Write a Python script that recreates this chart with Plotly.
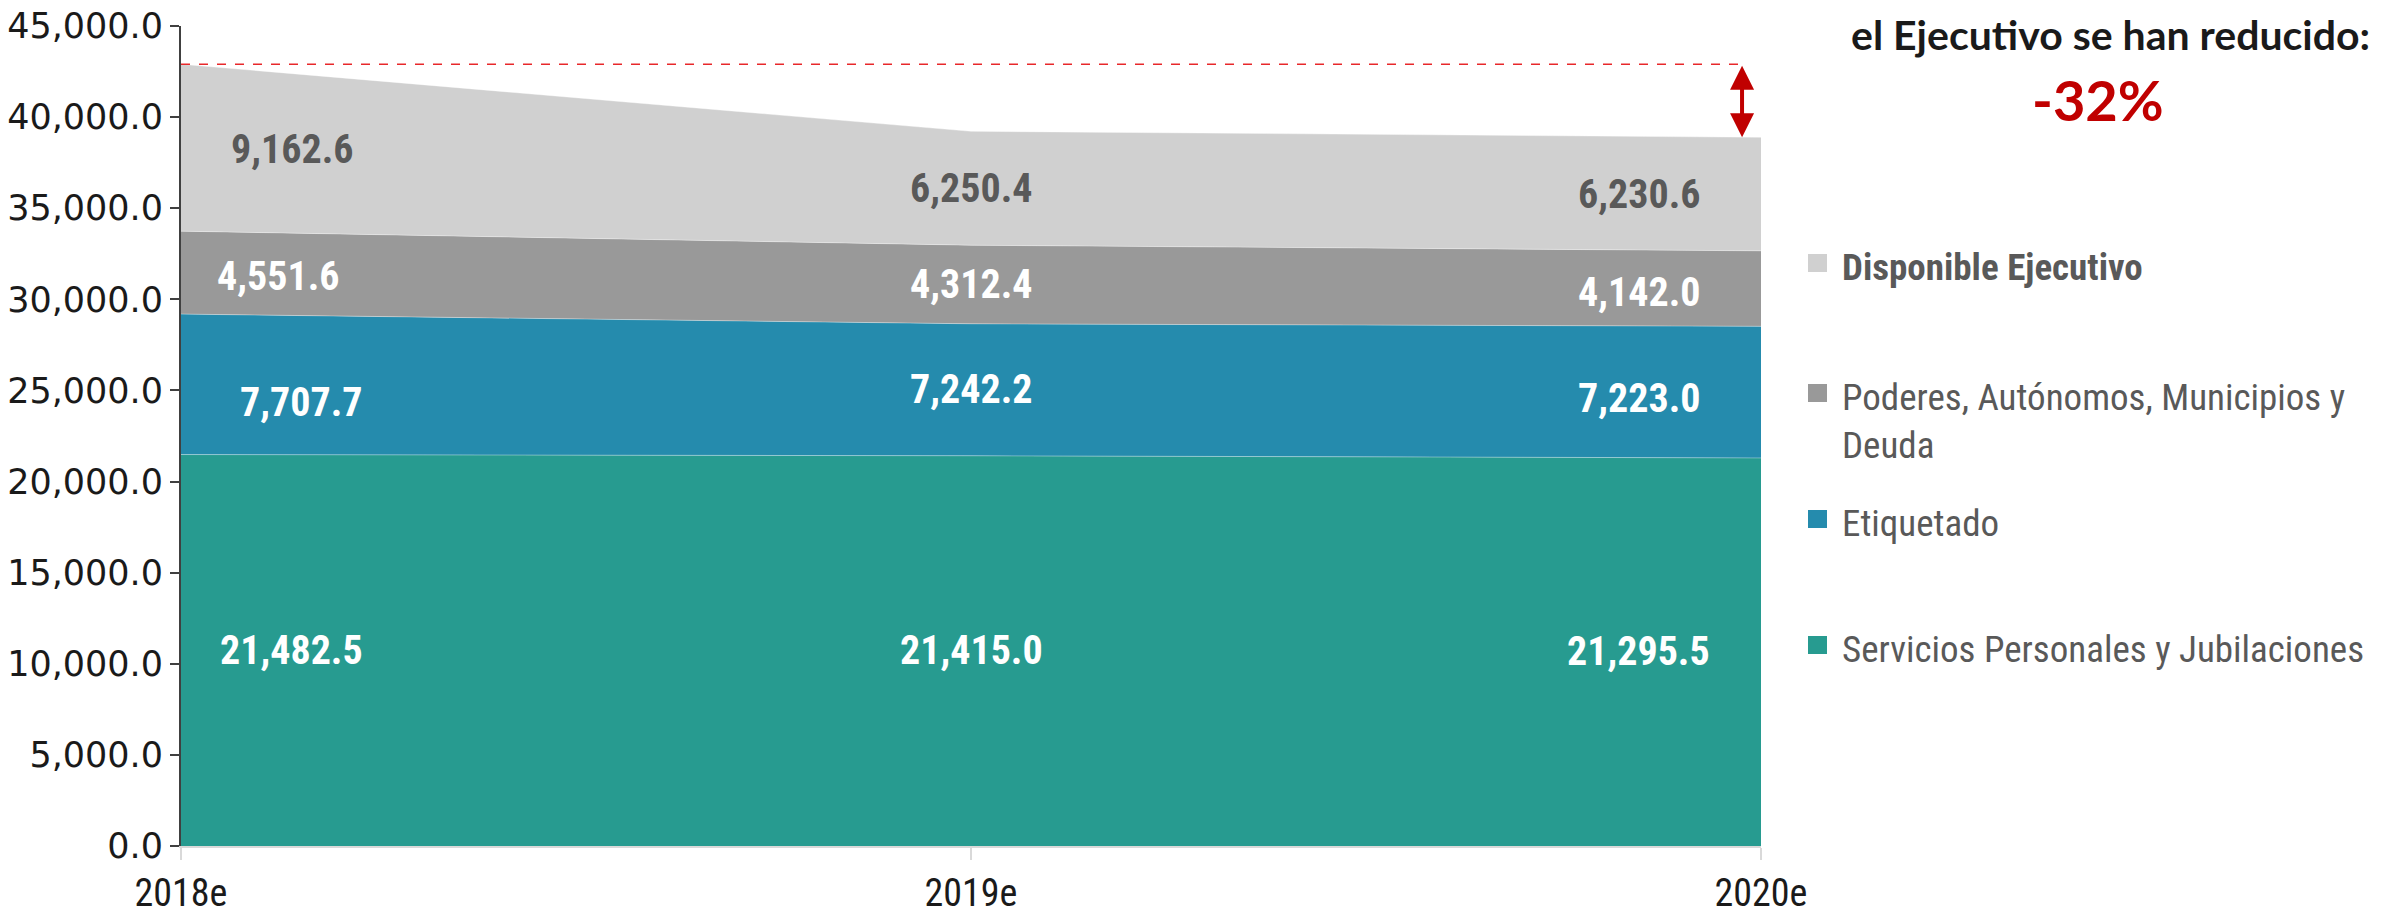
import plotly.graph_objects as go

years = ["2018e", "2019e", "2020e"]
servicios = [21482.5, 21415.0, 21295.5]
etiquetado = [7707.7, 7242.2, 7223.0]
poderes = [4551.6, 4312.4, 4142.0]
disponible = [9162.6, 6250.4, 6230.6]

series_names = ["Servicios Personales y Jubilaciones", "Etiquetado",
                "Poderes, Autónomos, Municipios y Deuda", "Disponible Ejecutivo"]
series_vals = [servicios, etiquetado, poderes, disponible]
colors = ["#279B90", "#258BAD", "#999999", "#D0D0D0"]
label_colors = ["#FFFFFF", "#FFFFFF", "#FFFFFF", "#595959"]

y_ticks = [0, 5000, 10000, 15000, 20000, 25000, 30000, 35000, 40000, 45000]

NARROW = "Liberation Sans Narrow, Arial Narrow, Roboto Condensed, sans-serif"

# plot-area geometry (pixels) used for paper-coordinate placement of side texts
L, R, T, B = 181, 1761, 26, 846
PW, PH = R - L, B - T


def px(xp):
    return (xp - L) / PW


def py(yp):
    return (B - yp) / PH


xpos = list(range(len(years)))
fig = go.Figure()
for name, vals, c in zip(series_names, series_vals, colors):
    fig.add_trace(go.Scatter(
        x=xpos, y=vals, name=name, mode="lines", stackgroup="one",
        line=dict(width=0.8, color="rgba(255,255,255,0.45)"),
        fillcolor=c, showlegend=False, hoverinfo="skip"))

# data labels at layer midpoints, with small pixel nudges (series x year)
label_x = [0.14, 1.0, 1.845]
nudges = [
    [(0, 0), (0, 0), (0, 0)],        # servicios
    [(9, -18), (0, 0), (0, -6)],     # etiquetado
    [(-14, -4), (0, 0), (0, -4)],    # poderes
    [(0, -2), (0, 0), (0, 0)],       # disponible
]
cum = [0.0] * len(years)
for s, (vals, lc) in enumerate(zip(series_vals, label_colors)):
    for i, v in enumerate(vals):
        dx, dy = nudges[s][i]
        fig.add_annotation(x=label_x[i], y=cum[i] + v / 2, xref="x", yref="y",
                           xanchor="center", yanchor="middle", xshift=dx, yshift=dy,
                           text=f"{v:,.1f}", showarrow=False,
                           font=dict(family=NARROW, size=40, color=lc, weight="bold"))
        cum[i] += v

totals = cum
# dashed reference line at 2018 total
fig.add_shape(type="line", x0=0, x1=1.976, y0=totals[0], y1=totals[0], xref="x", yref="y",
              line=dict(color="#E8282B", width=1.5, dash="dash"))
# double arrow showing reduction
fig.add_annotation(x=1.976, y=totals[-1], ax=1.976, ay=totals[0], xref="x", yref="y",
                   axref="x", ayref="y", text="", showarrow=True, arrowhead=2,
                   arrowside="end+start", arrowsize=1.2, arrowwidth=4, arrowcolor="#C00000",
                   standoff=0, startstandoff=0)

# manual legend
leg_y = [263, 393, 519, 645]
leg_order = [3, 2, 1, 0]
leg_text = ["<b>Disponible Ejecutivo</b>", "Poderes, Autónomos, Municipios y<br>Deuda",
            "Etiquetado", "Servicios Personales y Jubilaciones"]
for yy, idx, t in zip(leg_y, leg_order, leg_text):
    fig.add_shape(type="rect", xref="paper", yref="paper",
                  x0=px(1808), x1=px(1827), y0=py(yy + 9), y1=py(yy - 9),
                  fillcolor=colors[idx], line=dict(width=0))
    fig.add_annotation(x=px(1840), y=py(yy - 19), xref="paper", yref="paper",
                       xanchor="left", yanchor="top", align="left", text=t, showarrow=False,
                       font=dict(family=NARROW, size=37, color="#595959"))

fig.add_annotation(x=px(2110), y=py(34), xref="paper", yref="paper",
                   xanchor="center", yanchor="middle",
                   text="<b>el Ejecutivo se han reducido:</b>", showarrow=False,
                   font=dict(family="Lato, Open Sans, sans-serif", size=41, color="#1A1A1A"))
fig.add_annotation(x=px(2098), y=py(100), xref="paper", yref="paper",
                   xanchor="center", yanchor="middle",
                   text="<b>-32%</b>", showarrow=False,
                   font=dict(family="Lato, Open Sans, sans-serif", size=56, color="#C00000"))

fig.update_layout(
    width=2387, height=915,
    margin=dict(l=L, r=2387 - R, t=T, b=915 - B, autoexpand=False),
    paper_bgcolor="white", plot_bgcolor="white",
    xaxis=dict(range=[0, 2], tickmode="array", tickvals=xpos, ticktext=years,
               showgrid=False, zeroline=False, showline=True, linecolor="#D9D9D9", linewidth=2,
               ticks="outside", ticklen=12, tickcolor="#D9D9D9", tickwidth=2, automargin=False,
               tickfont=dict(family=NARROW, size=38, color="#1A1A1A")),
    yaxis=dict(range=[0, 45000], tickmode="array", tickvals=y_ticks,
               ticktext=[f"{v:,.1f}" for v in y_ticks],
               showgrid=False, zeroline=False, showline=True, linecolor="#404040", linewidth=2,
               ticks="outside", ticklen=9, tickcolor="#404040", tickwidth=2, automargin=False,
               tickfont=dict(family="DejaVu Sans", size=35, color="#1A1A1A")),
)

fig.write_html("out.html", config={"displayModeBar": False},
               post_script="document.body.style.margin='0';document.body.style.overflow='hidden';")
